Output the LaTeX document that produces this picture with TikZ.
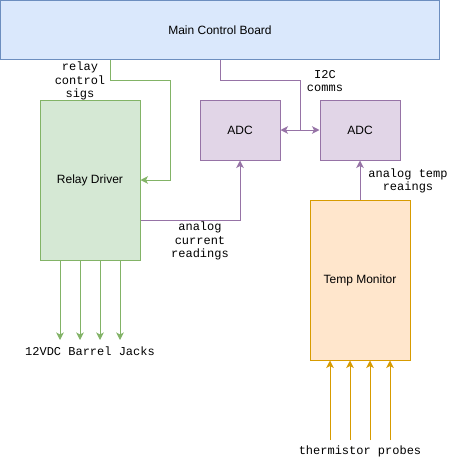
\documentclass[tikz,border=0pt]{standalone}
\usepackage{fontspec}
\setmainfont{Liberation Sans}
\setmonofont{Liberation Mono}
\usetikzlibrary{arrows.meta}

\definecolor{boardfill}{HTML}{DAE8FC}
\definecolor{boardline}{HTML}{6C8EBF}
\definecolor{relayfill}{HTML}{D5E8D4}
\definecolor{relayline}{HTML}{82B366}
\definecolor{adcfill}{HTML}{E1D5E7}
\definecolor{adcline}{HTML}{9673A6}
\definecolor{tempfill}{HTML}{FFE6CC}
\definecolor{templine}{HTML}{D79B00}

\tikzset{
    block/.style={draw, line width=1pt, inner sep=0pt, font=\fontsize{12}{14}\selectfont},
    sig/.style={font=\ttfamily\fontsize{12}{13.5}\selectfont, align=center, inner sep=1pt},
    tip/.style={-{Stealth[length=7.5pt,width=7.5pt,inset=2pt]}},
}

\begin{document}
\begin{tikzpicture}[x=1pt, y=-1pt, line width=1pt]
        \useasboundingbox (0,0) rectangle (451,461);

        % Blocks
        \node[block, fill=boardfill, draw=boardline, minimum width=439pt, minimum height=59pt] (board) at (220,30) {Main Control Board};
        \node[block, fill=relayfill, draw=relayline, minimum width=100pt, minimum height=160pt] (relay) at (90,180) {Relay Driver};
        \node[block, fill=adcfill, draw=adcline, minimum width=80pt, minimum height=60pt] (adcA) at (240,130) {ADC};
        \node[block, fill=adcfill, draw=adcline, minimum width=80pt, minimum height=60pt] (adcB) at (360,130) {ADC};
        \node[block, fill=tempfill, draw=templine, minimum width=100pt, minimum height=160pt] (temp) at (360,280) {Temp Monitor};

        % Labels
        \node[sig] (relaysigs) at (80,81) {relay\\control\\sigs};
        \node[sig] (i2c) at (325,81) {I2C\\comms};
        \node[sig] (current) at (200,241) {analog\\current\\readings};
        \node[sig] (tempread) at (408,181) {analog temp\\reaings};
        \node[sig, anchor=north] (jacks) at (90,345) {12VDC Barrel Jacks};
        \node[sig] (probes) at (360,451) {thermistor probes};

        % Relay control signals
        \draw[relayline, tip] (board.south -| 110,0) |- (170,80) |- (relay.east);

        % I2C bus
        \draw[adcline] (board.south -| 220,0) |- (300,80) -- (300,130);
        \draw[adcline, {Stealth[length=7.5pt,width=7.5pt,inset=2pt]}-{Stealth[length=7.5pt,width=7.5pt,inset=2pt]}] (adcA.east) -- (adcB.west);

        % Analog readings
        \draw[adcline, tip] (relay.east |- 0,220) -| (adcA.south);
        \draw[adcline, tip] (temp.north) -- (adcB.south);

        % Barrel jack outputs
        \foreach \x in {60,80,100,120}
            \draw[relayline, tip, shorten >=5pt] (relay.south -| \x,0) -- (jacks.north -| \x,0);

        % Thermistor inputs
        \foreach \x in {330,350,370,390}
            \draw[templine, tip] (\x,440) -- (temp.south -| \x,0);

    \end{tikzpicture}
\end{document}
